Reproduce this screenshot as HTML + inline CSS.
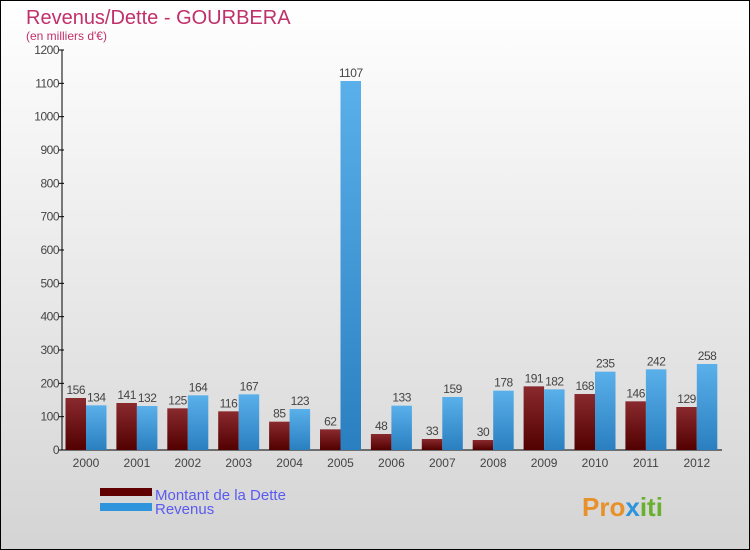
<!DOCTYPE html>
<html><head><meta charset="utf-8"><style>
body{margin:0;width:750px;height:550px;overflow:hidden}
svg{display:block;font-family:"Liberation Sans",sans-serif}
</style></head><body>
<svg id="c" width="750" height="550">
<defs>
<linearGradient id="bg" x1="0" y1="0" x2="0" y2="1"><stop offset="0" stop-color="#ffffff"/><stop offset="1" stop-color="#d4d4d4"/></linearGradient>
<linearGradient id="gd" x1="0" y1="0" x2="0" y2="1"><stop offset="0" stop-color="#8a2a2e"/><stop offset="1" stop-color="#520000"/></linearGradient>
<linearGradient id="gr" x1="0" y1="0" x2="0" y2="1"><stop offset="0" stop-color="#5ab0ea"/><stop offset="1" stop-color="#2a7fc0"/></linearGradient>
</defs>
<rect x="0.5" y="0.5" width="749" height="549" fill="url(#bg)" stroke="#000"/>
<text x="26" y="24" font-size="20" fill="#c0306a">Revenus/Dette - GOURBERA</text>
<text x="26" y="40" font-size="12" fill="#c0306a">(en milliers d'€)</text>
<g id="axes"></g><g id="bars"></g>
<rect x="100" y="488" width="52" height="8" fill="#600000"/>
<rect x="100" y="503" width="52" height="8" fill="#2e94dc"/>
<text x="155" y="500" font-size="15" fill="#5a5af0">Montant de la Dette</text>
<text x="155" y="514" font-size="15" fill="#5a5af0">Revenus</text>
<text x="582" y="516" font-size="26" font-weight="bold" fill="#e8902a">Pro<tspan fill="#2e94dc">x</tspan><tspan fill="#6ab030">iti</tspan></text>
</svg>
<script>
const years=["2000","2001","2002","2003","2004","2005","2006","2007","2008","2009","2010","2011","2012"];
const dette=[156,141,125,116,85,62,48,33,30,191,168,146,129];
const revenus=[134,132,164,167,123,1107,133,159,178,182,235,242,258];
const yTicks=[0,100,200,300,400,500,600,700,800,900,1000,1100,1200];
const NS="http://www.w3.org/2000/svg";
const x0=62,y0=450,yMax=1200,plotH=400,step=50.9,bw=20.5;
const y=v=>y0-v/yMax*plotH;
const cx=i=>x0+24+i*step;
function mk(t,a,p){const e=document.createElementNS(NS,t);for(const k in a)e.setAttribute(k,a[k]);p.appendChild(e);return e;}
const ax=document.getElementById('axes'),bg=document.getElementById('bars');
const yl=mk('line',{x1:x0,y1:y0,x2:x0,y2:y(1200),stroke:'#000'},ax);

const xl=mk('line',{x1:x0,y1:y0,x2:722,y2:y0,stroke:'#000'},ax);

yTicks.forEach(v=>{
 mk('line',{x1:x0-3,y1:y(v),x2:x0+2,y2:y(v),stroke:'#000'},ax);
 const t=mk('text',{x:x0-3,y:y(v)+4,'font-size':12,'text-anchor':'end',fill:'#444','letter-spacing':'-0.5'},ax);
 t.textContent=v;
 
 
});
years.forEach((yr,i)=>{
 const c=cx(i);
 const t=mk('text',{x:c,y:467,'font-size':12,'text-anchor':'middle',fill:'#444'},ax);
 t.textContent=yr;
 
 
 const d=mk('rect',{x:c-bw,y:y(dette[i]),width:bw,height:y0-y(dette[i]),fill:'url(#gd)'},bg);
 
 
 const r=mk('rect',{x:c,y:y(revenus[i]),width:bw,height:y0-y(revenus[i]),fill:'url(#gr)'},bg);
 
 
 const l1=mk('text',{x:c-bw/2,y:y(dette[i])-4,'font-size':12,'text-anchor':'middle',fill:'#444','letter-spacing':'-0.5'},bg);
 l1.textContent=dette[i];
 
 
 const l2=mk('text',{x:c+bw/2,y:y(revenus[i])-4,'font-size':12,'text-anchor':'middle',fill:'#444','letter-spacing':'-0.5'},bg);
 l2.textContent=revenus[i];
 
 
});
</script>
</body></html>
